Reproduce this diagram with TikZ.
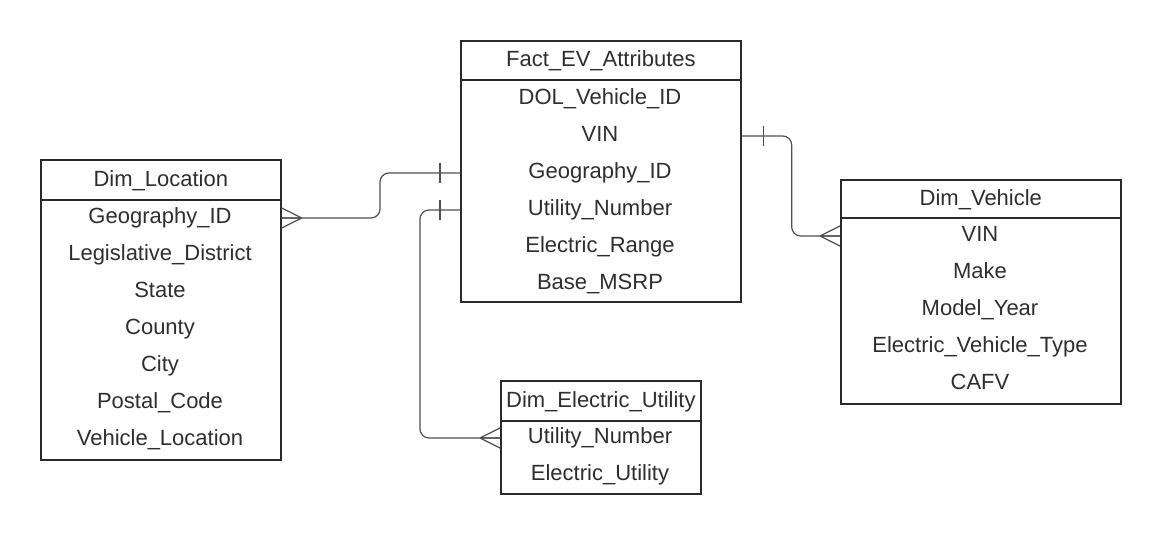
\documentclass[tikz,border=0pt]{standalone}
\usepackage{fontspec}
\setmainfont{Liberation Sans}
\usepackage{xcolor}
\definecolor{boxline}{HTML}{2A2A2A}
\definecolor{connline}{HTML}{505050}
\definecolor{txt}{HTML}{2E2E2E}

\tikzset{
  crowfoot/.pic = {\draw[conn] (0,-10) -- (20,0) (0,0) -- (20,0) (0,10) -- (20,0);},
  onebar/.pic = {\draw[conn] (20,-10) -- (20,10);}
}

\begin{document}
\begin{tikzpicture}[x=1pt, y=-1pt,
    every node/.style = {font=\fontsize{22}{25}\selectfont, text=txt},
    field/.style = {text height=16pt, text depth=5pt, inner sep=0pt},
    head/.style = {draw=boxline, line width=1.7pt, anchor=north west, inner sep=0pt,
      text height=17pt, text depth=4pt},
    body/.style = {draw=boxline, line width=1.7pt, anchor=north west, inner sep=0pt},
    conn/.style = {draw=connline, line width=1.2pt},
    link/.style = {conn, rounded corners=9pt}]
  \useasboundingbox (0,0) rectangle (1160,534);

  % fact table
  \node[body, minimum width=280, minimum height=222] (factbody) at (460,79) {};
  \node[head, minimum width=280, minimum height=39] (fact) at (460,40) {Fact\_EV\_Attributes};
  \foreach \f [count=\i] in {DOL\_Vehicle\_ID, VIN, Geography\_ID, Utility\_Number, Electric\_Range, Base\_MSRP}
    \node[field] (fact-\i) at (600,{62+37*\i}) {\f};

  % dimensions
  \node[body, minimum width=240, minimum height=260] (locbody) at (40,199) {};
  \node[head, minimum width=240, minimum height=40] (loc) at (40,159) {Dim\_Location};
  \foreach \f [count=\i] in {Geography\_ID, Legislative\_District, State, County, City, Postal\_Code, Vehicle\_Location}
    \node[field] (loc-\i) at (160,{181+37*\i}) {\f};

  \node[body, minimum width=280, minimum height=186] (vehbody) at (840,217) {};
  \node[head, minimum width=280, minimum height=38] (veh) at (840,179) {Dim\_Vehicle};
  \foreach \f [count=\i] in {VIN, Make, Model\_Year, Electric\_Vehicle\_Type, CAFV}
    \node[field] (veh-\i) at (980,{199+37*\i}) {\f};

  \node[body, minimum width=200, minimum height=73] (utilbody) at (500,420) {};
  \node[head, minimum width=200, minimum height=40] (util) at (500,380) {Dim\_Electric\_Utility};
  \foreach \f [count=\i] in {Utility\_Number, Electric\_Utility}
    \node[field] (util-\i) at (600,{401+37*\i}) {\f};

  % links
  \coordinate (f3) at (fact-3 -| factbody.west);
  \coordinate (f4) at (fact-4 -| factbody.west);
  \coordinate (f2) at (fact-2 -| factbody.east);
  \coordinate (l1) at (loc-1 -| locbody.east);
  \coordinate (u1) at (util-1 -| utilbody.west);
  \coordinate (v1) at (veh-1 -| vehbody.west);

  \draw[link] (f3) -- ++(-80,0) |- (l1);
  \draw[link] (f4) -- ++(-40,0) |- (u1);
  \draw[link] (f2) -- ++(50,0) |- (v1);

  \pic at (f3) [xscale=-1] {onebar};
  \pic at (f4) [xscale=-1] {onebar};
  \pic at ([xshift=2]f2) {onebar};
  \pic at (l1) {crowfoot};
  \pic at (u1) [xscale=-1] {crowfoot};
  \pic at (v1) [xscale=-1] {crowfoot};
\end{tikzpicture}
\end{document}
